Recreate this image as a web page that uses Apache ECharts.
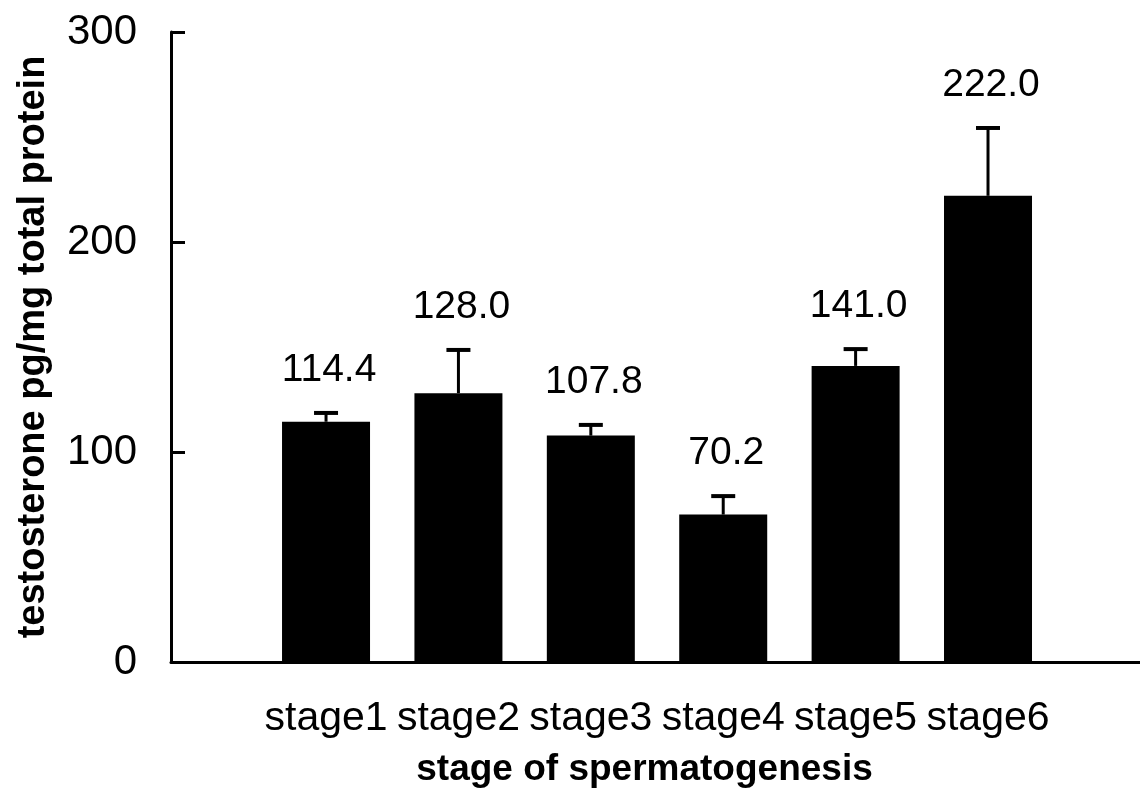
<!DOCTYPE html>
<html>
<head>
<meta charset="utf-8">
<title>testosterone by stage</title>
<script src="https://cdn.jsdelivr.net/npm/echarts@6/dist/echarts.min.js"></script>
<style>
  html, body { margin: 0; padding: 0; background: #fff; }
  #chart_picture { width: 1140px; height: 801px; }
</style>
</head>
<body>
<div id="chart_picture"></div>
<script>
// 各ステージの値
var stages = ["stage1", "stage2", "stage3", "stage4", "stage5", "stage6"];
var means = [114.4, 128.0, 107.8, 70.2, 141.0, 222.0];
var errors = [4.2, 20.6, 5.1, 8.8, 8.0, 32.3];
var yTicks = [0, 100, 200, 300];

var FONT = "Liberation Sans, Arial, sans-serif";

// bars sit on a value x axis at 1..6
var barData = means.map(function (v, i) { return [i + 1, v]; });
var errData = means.map(function (v, i) { return [i + 1, v, v + errors[i]]; });

function renderError(params, api) {
  var x = api.value(0);
  var top = api.coord([x, api.value(2)]);
  var base = api.coord([x, api.value(1)]);
  var label = means[params.dataIndex].toFixed(1);
  return {
    type: "group",
    children: [
      {
        type: "line",
        shape: { x1: base[0], y1: base[1], x2: top[0], y2: top[1] },
        style: { stroke: "#000", lineWidth: 3 }
      },
      {
        type: "line",
        shape: { x1: top[0] - 12, y1: top[1], x2: top[0] + 12, y2: top[1] },
        style: { stroke: "#000", lineWidth: 4 }
      },
      {
        type: "text",
        x: top[0] + 3,
        y: top[1] - 43,
        style: {
          text: label,
          font: "39px " + FONT,
          fill: "#000",
          align: "center",
          verticalAlign: "middle"
        }
      }
    ]
  };
}

var myChart = echarts.init(document.getElementById("chart_picture"));
myChart.setOption({
  animation: false,
  backgroundColor: "#fff",
  grid: {
    left: 171,
    right: 0,
    top: 32,
    bottom: 139,
    containLabel: false,
    outerBoundsMode: "none"
  },
  xAxis: {
    type: "value",
    min: -0.171,
    max: 7.148,
    splitLine: { show: false },
    axisTick: { show: false },
    axisLine: { show: true, onZero: false, lineStyle: { color: "#000", width: 3 } },
    axisLabel: {
      customValues: [1, 2, 3, 4, 5, 6],
      formatter: function (v) {
        var i = Math.round(v) - 1;
        return stages[i] || "";
      },
      color: "#000",
      fontFamily: FONT,
      fontSize: 41,
      margin: 36
    },
    name: "stage of spermatogenesis",
    nameLocation: "middle",
    nameGap: 89,
    nameTextStyle: {
      color: "#000",
      fontFamily: FONT,
      fontSize: 37,
      fontWeight: "bold",
      padding: [0, 22, 0, 0]
    }
  },
  yAxis: {
    type: "value",
    min: 0,
    max: 300,
    interval: 100,
    splitLine: { show: false },
    axisLine: { show: true, onZero: false, lineStyle: { color: "#000", width: 3 } },
    axisTick: {
      show: true,
      inside: true,
      length: 14,
      lineStyle: { color: "#000", width: 3 }
    },
    axisLabel: {
      formatter: function (v) { return yTicks.indexOf(v) >= 0 ? String(v) : ""; },
      color: "#000",
      fontFamily: FONT,
      fontSize: 42,
      margin: 34
    },
    name: "testosterone pg/mg total protein",
    nameLocation: "middle",
    nameGap: 118,
    nameTextStyle: {
      color: "#000",
      fontFamily: FONT,
      fontSize: 38,
      fontWeight: "bold"
    }
  },
  series: [
    {
      type: "bar",
      data: barData,
      barWidth: 88,
      itemStyle: { color: "#000" },
      z: 2
    },
    {
      type: "custom",
      data: errData,
      renderItem: renderError,
      z: 3
    }
  ]
});
</script>
</body>
</html>
